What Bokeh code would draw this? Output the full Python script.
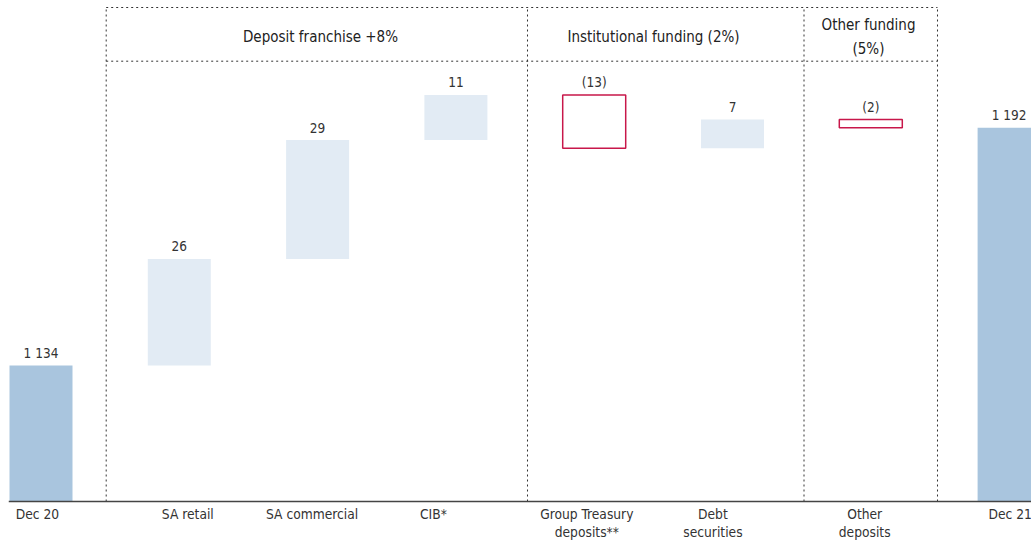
from bokeh.plotting import figure
from bokeh.models import Span, ColumnDataSource, Range1d
from bokeh.core.properties import value
from bokeh.embed import file_html
from bokeh.resources import INLINE

# ---- data ----
categories = ["Dec 20", "SA retail", "SA commercial", "CIB*",
              "Group Treasury\ndeposits**", "Debt\nsecurities", "Other\ndeposits", "Dec 21"]
start_total = 1134
changes = [26, 29, 11, -13, 7, -2]
end_total = 1192
group_titles = ["Deposit franchise +8%", "Institutional funding (2%)", "Other funding\n(5%)"]

# ---- layout (pixel-based helpers; not data) ----
STEP = 138.3            # px per category
PX_PER_UNIT = 4.1       # px per value unit
REF_PX = 365            # pixel row of start_total
FRAME_H = 542


def px2y(px):
    return start_total + (REF_PX - px) / PX_PER_UNIT


def px2x(px):
    return (px - 40.5) / STEP


axis_floor = px2y(501)
dividers = [px2x(105.7), px2x(527), px2x(803.5), px2x(937)]
group_x = [px2x(320), px2x(653), px2x(868)]
label_dx = [-3.5, 8.5, -5.5, -22.5, -7.4, -19.6, -6.1, 1.0]   # px shifts of category labels
LABEL_GAP = 12.5 / PX_PER_UNIT                                  # gap above bars, in value units

FONT = "'DejaVu Sans Condensed', 'DejaVu Sans', sans-serif"
TOTAL_COL = "#a9c5de"
POS_COL = "#e2ebf4"
NEG_COL = "#c8174a"
TXT = "#333333"


def fmt(v):
    s = f"{abs(v):,}".replace(",", " ")
    return f"({s})" if v < 0 else s


# waterfall geometry from data
labels, label_y = [fmt(start_total)], [start_total]
run = start_total
pos_src = dict(x=[], bottom=[], top=[])
neg_src = dict(x=[], bottom=[], top=[])
for i, c in enumerate(changes, start=1):
    lo, hi = min(run, run + c), max(run, run + c)
    tgt = pos_src if c >= 0 else neg_src
    tgt["x"].append(i); tgt["bottom"].append(lo); tgt["top"].append(hi)
    labels.append(fmt(c)); label_y.append(hi)
    run += c
n = len(categories)
tot_src = dict(x=[0, n - 1], bottom=[axis_floor, axis_floor], top=[start_total, end_total])
labels.append(fmt(end_total)); label_y.append(end_total)

p = figure(width=1031, height=FRAME_H, output_backend="svg", toolbar_location=None,
           x_range=Range1d(px2x(8), px2x(1031)), y_range=Range1d(px2y(FRAME_H), px2y(0)),
           min_border_left=8, min_border_right=0, min_border_top=0, min_border_bottom=0)
p.outline_line_color = None
p.xgrid.visible = False
p.ygrid.visible = False
p.xaxis.visible = False
p.yaxis.visible = False
p.background_fill_color = "white"

W = 63 / STEP
p.vbar(x="x", bottom="bottom", top="top", width=W, source=ColumnDataSource(tot_src),
       fill_color=TOTAL_COL, line_color=None)
p.vbar(x="x", bottom="bottom", top="top", width=W, source=ColumnDataSource(pos_src),
       fill_color=POS_COL, line_color=None)
p.vbar(x="x", bottom="bottom", top="top", width=W, source=ColumnDataSource(neg_src),
       fill_color="white", line_color=NEG_COL, line_width=1.5)

# value labels
p.text(x=list(range(n)), y=[v + LABEL_GAP for v in label_y], text=labels, text_align="center",
       text_baseline="alphabetic", text_font=value(FONT),
       text_font_size="13.5px", text_color=TXT)

# baseline (axis line)
p.add_layout(Span(location=axis_floor, dimension="width", line_color="#444444", line_width=1.5))

# group dividers
top_line, mid_line = px2y(7), px2y(60.7)
p.segment(x0=dividers, x1=dividers, y0=[axis_floor] * 4, y1=[top_line] * 4,
          line_color=TXT, line_dash="2 3", line_width=1)
p.segment(x0=[dividers[0]] * 2, x1=[dividers[-1]] * 2, y0=[top_line, mid_line],
          y1=[top_line, mid_line], line_color=TXT, line_dash="2 3", line_width=1)
p.text(x=group_x, y=[px2y(36.4)] * 3, text=group_titles,
       text_align="center", text_baseline="middle", text_font=value(FONT),
       text_font_size="15px", text_color="#222222", text_line_height=1.33)

# category labels below the axis line
p.text(x=[i + d / STEP for i, d in enumerate(label_dx)], y=[px2y(505.5)] * n, text=categories,
       text_align="center", text_baseline="top", text_font=value(FONT),
       text_font_size="13.7px", text_color=TXT, text_line_height=1.15)

open("out.html", "w").write(file_html(p, INLINE))
